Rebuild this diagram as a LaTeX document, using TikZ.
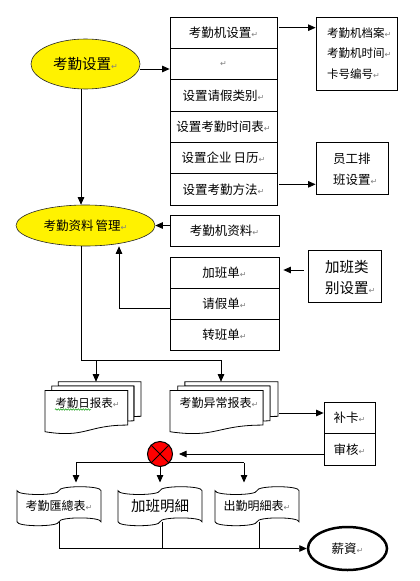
\documentclass[tikz,border=0pt]{standalone}
\usepackage{fontspec}
\newfontfamily\cjk{Noto Sans CJK SC}
\newfontfamily\djv{DejaVu Sans}
\usetikzlibrary{arrows.meta,shapes.geometric,calc,decorations.pathmorphing}
\newcommand{\enterarrow}{{\djv\fontsize{8}{8}\selectfont\textcolor{gray}{↵}}}
\newcommand{\mdoc}[4]{%
\draw[lw,fill=white] ({#1+0.1376*#3},{#2+0.084*#4}) -- ({#1+0.1376*#3},#2) -- ({#1+#3},#2) -- ({#1+#3},{#2+0.666*#4}) .. controls ({#1+0.963*#3},{#2+0.666*#4}) and ({#1+0.926*#3},{#2+0.670*#4}) .. ({#1+0.926*#3},{#2+0.670*#4}) -- ({#1+0.926*#3},{#2+0.084*#4}) -- cycle;
\draw[lw,fill=white] ({#1+0.0709*#3},{#2+0.170*#4}) -- ({#1+0.0709*#3},{#2+0.084*#4}) -- ({#1+0.926*#3},{#2+0.084*#4}) -- ({#1+0.926*#3},{#2+0.752*#4}) .. controls ({#1+0.8936*#3},{#2+0.752*#4}) and ({#1+0.861*#3},{#2+0.757*#4}) .. ({#1+0.861*#3},{#2+0.757*#4}) -- ({#1+0.861*#3},{#2+0.170*#4}) -- cycle;
\draw[lw,fill=white] ({#1},{#2+0.962*#4}) .. controls ({#1+0.430*#3},{#2+1.0898*#4}) and ({#1+0.430*#3},{#2+0.834*#4}) .. ({#1+0.861*#3},{#2+0.834*#4}) -- ({#1+0.861*#3},{#2+0.170*#4}) -- ({#1},{#2+0.170*#4}) -- cycle;}
\newcommand{\tapeshape}[4]{%
\draw[lw,fill=white] (#1,{#2+0.1*#4}) .. controls (#1,{#2+0.2333*#4}) and ({#1+0.5*#3},{#2+0.2333*#4}) .. ({#1+0.5*#3},{#2+0.1*#4}) .. controls ({#1+0.5*#3},{#2-0.0333*#4}) and ({#1+#3},{#2-0.0333*#4}) .. ({#1+#3},{#2+0.1*#4}) -- ({#1+#3},{#2+0.9*#4}) .. controls ({#1+#3},{#2+0.7667*#4}) and ({#1+0.5*#3},{#2+0.7667*#4}) .. ({#1+0.5*#3},{#2+0.9*#4}) .. controls ({#1+0.5*#3},{#2+1.0333*#4}) and (#1,{#2+1.0333*#4}) .. (#1,{#2+0.9*#4}) -- cycle;}
\begin{document}
\begin{tikzpicture}[x=1pt,y=-1pt,
  lw/.style={line width=0.8pt},
  arr/.style={lw,-{Triangle[length=7.5pt,width=6.5pt]}},
  cell/.style={draw,lw,inner sep=0pt,font=\cjk\fontsize{12.5}{14}\selectfont},
  txt/.style={inner sep=0pt,font=\cjk\fontsize{12.5}{14}\selectfont},
  oval/.style={ellipse,draw=black!85,line width=0.6pt,fill=yellow,inner sep=0pt}]
\useasboundingbox (0,0) rectangle (420,581);

% ellipses
\node[oval,minimum width=109pt,minimum height=50pt,font=\cjk\fontsize{14.5}{16}\selectfont] (e1) at (85.5,64) {考勤设置\enterarrow};
\node[oval,minimum width=139pt,minimum height=41pt,font=\cjk\fontsize{12.5}{14}\selectfont] (e2) at (85.5,225.5) {考勤资料\hspace{2pt}管理\enterarrow};

% top stack
\node[cell,minimum width=107pt,minimum height=31.33pt] (s1) at (223.5,32.67) {考勤机设置\enterarrow};
\node[cell,minimum width=107pt,minimum height=31.33pt] (s2) at (223.5,64) {\enterarrow};
\node[cell,minimum width=107pt,minimum height=31.33pt] (s3) at (223.5,95.33) {设置请假类别\enterarrow};
\node[cell,minimum width=107pt,minimum height=31.33pt] (s4) at (223.5,126.67) {设置考勤时间表\enterarrow};
\node[cell,minimum width=107pt,minimum height=31.33pt] (s5) at (223.5,158) {设置企业\hspace{2pt}日历\enterarrow};
\node[cell,minimum width=107pt,minimum height=31.33pt] (s6) at (223.5,189.33) {设置考勤方法\enterarrow};

% right boxes
\node[draw,lw,minimum width=81pt,minimum height=73pt] (r1) at (356.5,53.5) {};
\node[txt,anchor=west,align=left,font=\cjk\fontsize{11.5}{20.5}\selectfont] (r1t) at (327,53.5) {考勤机档案\enterarrow\\考勤机时间\enterarrow\\卡号编号\enterarrow};
\node[draw,lw,minimum width=72pt,minimum height=52pt] (r2) at (352,168) {};
\node[txt,anchor=west,align=left,font=\cjk\fontsize{12.5}{21}\selectfont] (r2t) at (333,169.5) {员工排\\班设置\enterarrow};

% middle boxes
\node[cell,minimum width=109pt,minimum height=31pt] (m1) at (224.5,230.5) {考勤机资料\enterarrow};
\node[cell,minimum width=109pt,minimum height=31pt] (t1) at (224.5,272.5) {加班单\enterarrow};
\node[cell,minimum width=109pt,minimum height=31pt] (t2) at (224.5,303.5) {请假单\enterarrow};
\node[cell,minimum width=109pt,minimum height=31pt] (t3) at (224.5,334.5) {转班单\enterarrow};
\node[draw,lw,minimum width=73pt,minimum height=52pt] (g) at (344.5,276) {};
\node[txt,anchor=west,align=left,font=\cjk\fontsize{14.5}{21}\selectfont] (gt) at (325,277.5) {加班类\\别设置\enterarrow};

% reports
\mdoc{45}{381.7}{96}{52}
\mdoc{170}{381.7}{108}{52}
\node[txt,font=\cjk\fontsize{11.5}{14}\selectfont] (D1) at (87.5,403) {考勤日报表\enterarrow};
\node[txt,font=\cjk\fontsize{12}{14}\selectfont] (D2) at (219,403) {考勤异常报表\enterarrow};
\draw[green!60!black,line width=0.5pt,decorate,decoration={snake,segment length=2.5pt,amplitude=0.7pt}] (55,409.5) -- (91,409.5);

\node[cell,minimum width=51pt,minimum height=31.5pt] (bk) at (349.5,417.75) {补卡\enterarrow};
\node[cell,minimum width=51pt,minimum height=31.5pt] (sh) at (349.5,449.25) {审核\enterarrow};

% tapes
\tapeshape{17}{486.7}{84}{39}
\tapeshape{118}{486.7}{84}{39}
\tapeshape{215}{486.7}{84}{39}
\node[txt,minimum width=84pt,minimum height=39pt,font=\cjk\fontsize{12}{14}\selectfont] (T1) at (59,506.2) {考勤匯總表\enterarrow};
\node[txt,minimum width=84pt,minimum height=39pt,font=\cjk\fontsize{14.5}{16}\selectfont] (T2) at (160,506.2) {加班明細};
\node[txt,minimum width=84pt,minimum height=39pt,font=\cjk\fontsize{12}{14}\selectfont] (T3) at (257,506.2) {出勤明細表\enterarrow};

% bus under circle
\coordinate (b1) at ($(T1.north)+(17,-23.7)$);
\coordinate (b3) at ($(T3.north)+(-13,-23.7)$);
\draw[lw] (b1) -- (b3);
\node[circle,draw,line width=1pt,fill=red,minimum size=25pt,inner sep=0pt] (X) at (160,454) {};
\draw[line width=1pt] (X.north west) -- (X.south east) (X.north east) -- (X.south west);

% salary
\node[ellipse,draw,line width=2.5pt,minimum width=79pt,minimum height=43pt,inner sep=0pt,font=\cjk\fontsize{12.5}{14}\selectfont] (sal) at (347.5,548.5) {薪資\enterarrow};

% connectors
\draw[arr] ([yshift=-5pt]e1.east) -- ([yshift=-5pt]s2.west);
\coordinate (a1) at ($(s1.east)+(2,-5)$);
\draw[arr] (a1) -- (a1 -| r1.west);
\coordinate (a2) at ($(s6.east)+(2,-5)$);
\draw[arr] (a2) -- (a2 -| r2.west);
\coordinate (a3) at ($(e1.south)+(-4.5,0)$);
\draw[arr] (a3) -- (a3 |- e2.north);
\draw[arr] (m1.west |- e2.east) -- (e2.east);
\coordinate (a4) at ($(t2.west)+(0,5)$);
\draw[arr] (a4) -| ($(e2.south)+(33.5,0)$);
\draw[arr] ($(g.west)+(-4,-6)$) -- ($(t1.east)+(4,-2.5)$);
\coordinate (a5) at ($(e2.south)+(-4.5,0)$);
\coordinate (bus) at ($(D2)+(2,-43)$);
\draw[arr] (a5) |- (bus) -- ($(D2)+(2,-21.3)$);
\draw[arr] ($(D1)+(8.5,-43)$) -- ($(D1)+(8.5,-21.3)$);
\draw[arr] ($(D2)+(60,10)$) -- ($(bk.west)+(0,-4.75)$);
\draw[arr] (sh.west |- X.east) -- ($(X.east)+(6,0)$);
\draw[arr] (b1) -- ($(T1.north)+(17,-4)$);
\draw[arr] (b3) -- ($(T3.north)+(-13,-4)$);
\draw[arr] (X.south) -- ($(T2.north)+(0,-4)$);
\coordinate (c1) at ($(T1.south)+(0,-4)$);
\draw[arr] (c1) |- (sal.west);
\coordinate (c2) at ($(T2.south)+(2,-4)$);
\draw[lw] (c2) -- (c2 |- sal.west);
\coordinate (c3) at ($(T3.south)+(2,-4)$);
\draw[lw] (c3) -- (c3 |- sal.west);
\end{tikzpicture}
\end{document}
